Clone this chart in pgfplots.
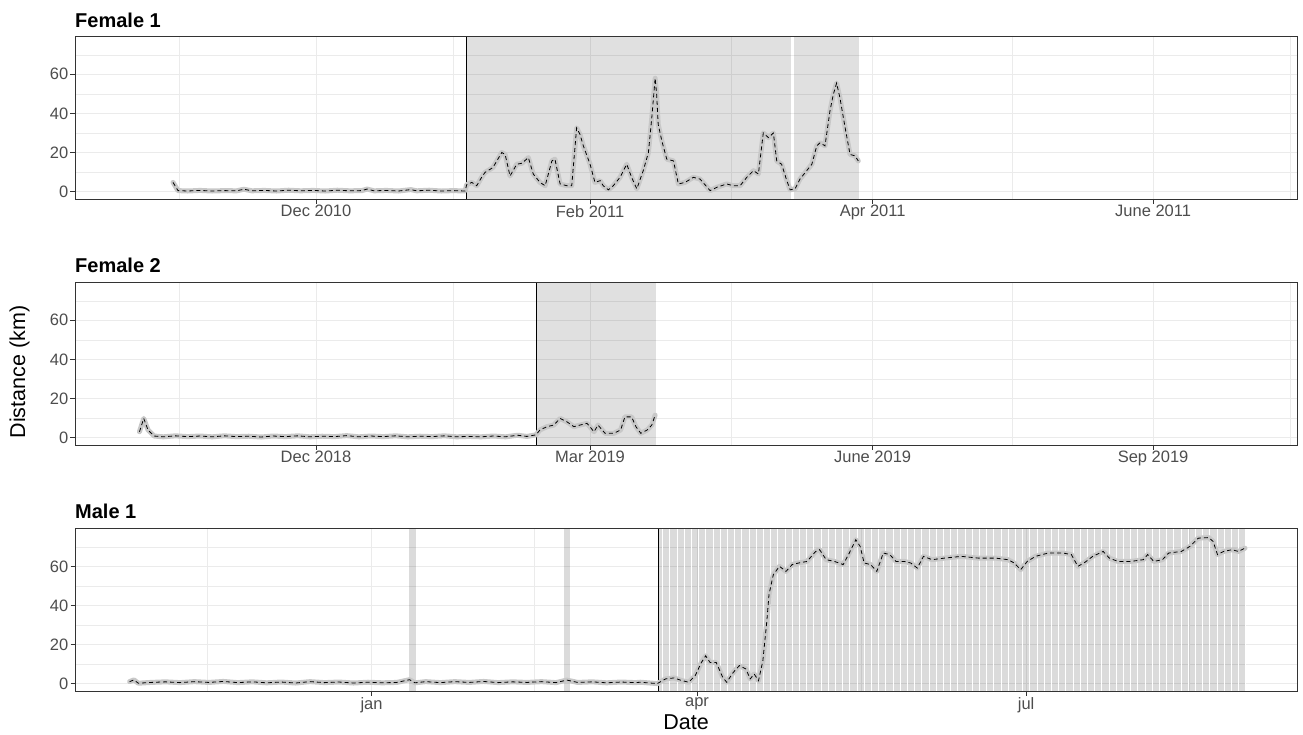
\documentclass[border=0pt]{standalone}
\usepackage{fontspec}
\setmainfont{Liberation Sans}
\usepackage{pgfplots}
\pgfplotsset{compat=1.18}
\usepackage{pgfplotstable}
\usetikzlibrary{patterns.meta}

\definecolor{framegray}{HTML}{333333}
\definecolor{ticktext}{HTML}{4D4D4D}
\definecolor{gridc}{HTML}{EBEBEB}
\definecolor{smoothgray}{HTML}{C8C8C8}

% days since first labelled month, distance in km
\pgfplotstableread{
d v
-46.8 4.7
-45.2 0.5
-42 0.3
-38 0.6
-34 0.3
-30 0.5
-26 0.4
-23.6 1.2
-21 0.4
-17 0.6
-13 0.3
-9 0.7
-5 0.4
-1 0.6
3 0.3
7 0.7
11 0.4
15 0.5
16.7 1.3
19 0.4
23 0.6
27 0.3
31 1.0
33 0.4
37 0.7
41 0.3
45 0.5
48.8 0.3
49.3 3.5
51.0 4.7
52.6 3.0
54.2 7.3
55.3 9.8
57.9 12.3
60.8 20
61.9 19
63.5 8
65.7 14
67.4 14.5
69.5 17.4
71.1 9
73.3 4.7
75.0 3
77.2 15.7
78.2 16.6
79.9 3.9
82.1 3
83.7 3
85.3 32.6
86.4 29.3
87.5 23.4
89.7 14
91.3 4.7
93.0 5.6
94.0 3
95.7 0.9
97.3 3
99.5 7.3
101.7 14
103.3 7.3
105.0 1.4
107.1 10.7
108.8 20
109.9 37.7
111.0 58
111.5 49.6
112.0 34.4
113.2 25.9
114.8 16.6
117.0 15.7
118.6 3.9
120.8 4.7
123.5 7.3
125.7 6.4
129.0 0.5
131.2 2.2
134.4 3.9
136.6 3
138.8 3
141.0 7.3
143.2 10.7
144.8 9
146.4 30
148.1 27.6
149.7 30
150.8 15.7
152.4 14
154.1 5.6
155.2 0.9
156.8 1.4
158.4 6.4
160.6 10.7
162.3 14
163.9 23.4
165.0 25
166.6 23.4
168.2 41
169.3 49.6
170.4 55.5
171.5 47.9
173.2 32.6
174.8 19
176.4 18.3
177.5 15.7
}\femaleone

\pgfplotstableread{
d v
-57.8 3.0
-56.4 9.8
-55.0 3.9
-53.0 0.8
-50 0.4
-46 0.9
-42 0.5
-38 0.8
-34 0.4
-30 0.9
-26 0.5
-22 0.7
-18 0.3
-14 0.8
-10 0.5
-6 0.9
-2 0.4
2 0.7
6 0.5
10 1.0
14 0.4
18 0.8
22 0.5
26 0.9
30 0.4
34 0.7
38 0.5
42 0.9
46 0.4
50 0.6
54 0.4
58 0.8
62 0.4
66 1.2
69 0.6
72 1.4
73.3 3.9
75.6 5.6
77.8 6.4
79.9 9.8
82.2 8
84.4 5.6
86.4 6.4
88.7 7.3
91.0 3
92.3 6.4
94.6 2.2
97.5 2.2
99.7 3.9
101.1 10.6
103.3 10.6
104.7 5.6
106.3 2.2
108.4 3.9
109.9 6.4
111.0 11.5
}\femaletwo

\pgfplotstableread{
d v
-66.9 1.0
-65.7 1.9
-64.5 0.2
-61 0.6
-57 0.9
-53 0.5
-49 1.0
-45 0.6
-41 1.1
-37 0.5
-33 0.9
-29 0.4
-25 0.8
-21 0.3
-17 1.0
-13 0.5
-9 0.8
-5 0.3
-1 0.7
3 0.4
7 0.6
10.5 2.0
12 0.4
15 1.0
19 0.5
23 1.0
27 0.6
31 1.1
35 0.5
39 0.9
43 0.6
47 1.0
51 0.5
54 1.8
57 0.6
61 0.9
65 0.4
69 0.8
73 0.5
74.3 0.7
77 0.3
79.0 0.0
81.3 2.4
83.6 2.9
85.9 1.5
87.7 0.7
89.5 4.1
91.2 10.8
92.4 14.2
93.6 10.8
95.3 10.8
97.1 3.2
98.2 0.7
100.0 5.7
101.7 9.2
103.5 7.5
104.7 2.4
105.8 4.9
107.0 1.5
108.2 11.7
109.3 32
109.9 45.6
111.1 55.8
112.8 60
114.6 57.4
116.3 60.9
118.1 61.7
120.4 62.5
122.8 67.6
123.9 68.5
125.7 63.4
128.0 62.5
130.4 60.9
132.1 66.8
133.9 73.6
135.1 70.2
136.2 61.7
138.0 60.9
139.7 57.4
141.5 66.8
143.3 66
145.0 62.5
147.3 62.5
149.1 61.7
150.9 59.1
152.6 65.1
155.0 63.4
158.4 64.2
163.1 65.1
167.8 64.2
172.5 64.2
176.0 63.4
177.7 61.7
179.5 58.3
181.3 62.5
183.6 65.1
187.1 66.8
191.2 66.8
193.5 66
195.3 60
197.0 61.7
199.4 65.1
202.3 67.6
204.0 64.2
206.4 62.5
209.9 62.5
213.4 63.4
214.6 66
216.3 62.5
218.7 63.4
220.4 66.8
223.9 67.6
226.3 70.2
228.6 74.4
231.5 74.7
232.7 72.7
233.9 66
235.6 67.6
237.9 68.5
239.7 67.6
241.5 69.3
}\maleone

\pgfplotsset{
  panel/.style={
    scale only axis, width=1222bp, height=163bp,
    ymin=-3.79, ymax=79.6,
    ytick={0,20,40,60}, minor ytick={10,30,50,70},
    grid=both,
    major grid style={gridc, line width=0.9bp},
    minor grid style={gridc, line width=0.5bp},
    axis line style={framegray, line width=0.9bp},
    tick style={framegray, line width=0.9bp},
    tick align=outside, major tick length=4.5bp, minor tick length=0pt,
    xtick pos=left, ytick pos=left,
    ticklabel style={font=\fontsize{16.5bp}{19bp}\selectfont, text=ticktext},
    /pgf/number format/assume math mode=true,
    yticklabel style={inner sep=0pt, xshift=-2bp},
    xticklabel style={inner sep=0pt, yshift=-1.5bp},
    anchor=south west,
  },
  raw/.style={black, line width=0.8bp, dash pattern=on 4bp off 3bp},
  smoothed/.style={smoothgray, line width=5bp, line join=round, line cap=round},
  plain zone/.style={draw=none, fill=black, fill opacity=#1},
  plain zone/.default=0.14,
  zone/.style 2 args={plain zone,
    postaction={pattern={Lines[angle=90,distance=#1,line width=0.5bp]},
      pattern color=white, fill opacity=#2}},
  start/.style={black, line width=0.7bp},
}
\newcommand{\panelframe}{\draw[framegray, line width=0.9bp] (rel axis cs:0,0) rectangle (rel axis cs:1,1);}

\begin{document}
\begin{tikzpicture}
\useasboundingbox (0,0) rectangle (1303bp,-735bp);

% Female 1
\begin{axis}[panel, at={(75bp,-199bp)},
  xmin=-78.9, xmax=321.1,
  xtick={0,89.7,182.2,274}, minor xtick={-44.8,44.9,136,228,319},
  xticklabels={Dec 2010, Feb 2011, Apr 2011, June 2011}]
\addplot[plain zone=0.12] coordinates {(49.1,-3.79) (49.1,79.6) (155.5,79.6) (155.5,-3.79)} -- cycle;
\addplot[plain zone=0.12] coordinates {(156.5,-3.79) (156.5,79.6) (177.7,79.6) (177.7,-3.79)} -- cycle;
\addplot[start] coordinates {(49.1,-3.79) (49.1,79.6)};
\addplot[smoothed] table[x=d, y=v] {\femaleone};
\addplot[raw] table[x=d, y=v] {\femaleone};
\panelframe
\end{axis}

% Female 2
\begin{axis}[panel, at={(75bp,-445bp)},
  xmin=-78.9, xmax=321.1,
  xtick={0,89.7,182.2,274}, minor xtick={-44.8,44.9,136,228,319},
  xticklabels={Dec 2018, Mar 2019, June 2019, Sep 2019}]
\addplot[plain zone=0.12] coordinates {(72.0,-3.79) (72.0,79.6) (111.3,79.6) (111.3,-3.79)} -- cycle;
\addplot[start] coordinates {(72.0,-3.79) (72.0,79.6)};
\addplot[smoothed] table[x=d, y=v] {\femaletwo};
\addplot[raw] table[x=d, y=v] {\femaletwo};
\panelframe
\end{axis}

% Male 1
\begin{axis}[panel, at={(75bp,-691bp)},
  xmin=-82.0, xmax=255.9,
  xtick={0,90,181}, minor xtick={-45.5,45,135.5,226},
  xticklabels={jan, apr, jul}]
\addplot[plain zone] coordinates {(10.4,-3.79) (10.4,79.6) (12.2,79.6) (12.2,-3.79)} -- cycle;
\addplot[plain zone] coordinates {(53.2,-3.79) (53.2,79.6) (54.9,79.6) (54.9,-3.79)} -- cycle;
\addplot[zone={7.2bp}{0.55}] coordinates {(79.4,-3.79) (79.4,79.6) (241.8,79.6) (241.8,-3.79)} -- cycle;
\addplot[start] coordinates {(79.4,-3.79) (79.4,79.6)};
\addplot[smoothed] table[x=d, y=v] {\maleone};
\addplot[raw] table[x=d, y=v] {\maleone};
\panelframe
\end{axis}

\begin{scope}[every node/.style={inner sep=0pt}]
\node[anchor=base west, font=\fontsize{20bp}{24bp}\selectfont\bfseries] at (75bp,-27bp) {Female 1};
\node[anchor=base west, font=\fontsize{20bp}{24bp}\selectfont\bfseries] at (75bp,-272bp) {Female 2};
\node[anchor=base west, font=\fontsize{20bp}{24bp}\selectfont\bfseries] at (75bp,-518bp) {Male 1};
\node[anchor=base, font=\fontsize{21.5bp}{25bp}\selectfont] at (686bp,-729bp) {Date};
\node[anchor=base, rotate=90, font=\fontsize{21.5bp}{25bp}\selectfont] at (25bp,-372bp) {Distance (km)};
\end{scope}
\end{tikzpicture}
\end{document}
